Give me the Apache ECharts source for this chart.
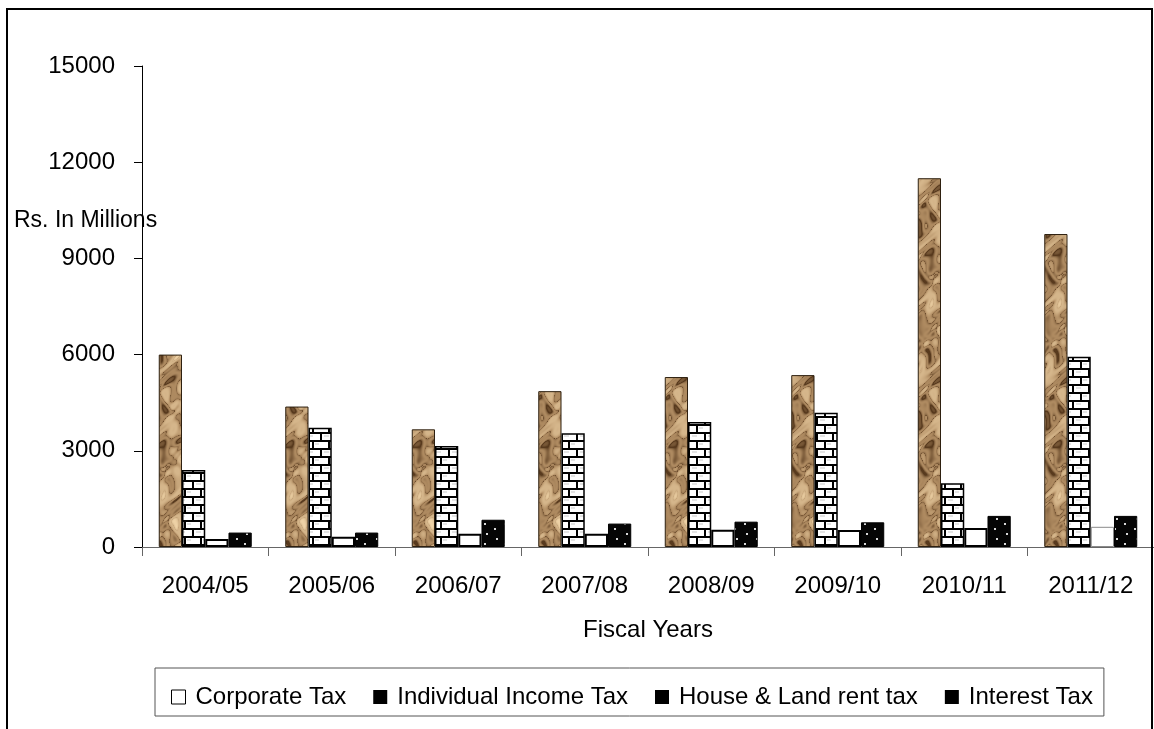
<!DOCTYPE html>
<html>
<head>
<meta charset="utf-8">
<script src="https://cdn.jsdelivr.net/npm/echarts@6/dist/echarts.min.js"></script>
<style>
  html, body { margin: 0; padding: 0; background: #fff; }
  #chart { width: 1154px; height: 729px; }
</style>
</head>
<body>
<div id="chart"></div>
<script>
// Tax revenue by fiscal year (Rs. in millions)
const categories = ['2004/05', '2005/06', '2006/07', '2007/08', '2008/09', '2009/10', '2010/11', '2011/12'];
const corporateTax = [6000, 4380, 3670, 4860, 5300, 5360, 11500, 9760];
const individualIncomeTax = [2400, 3720, 3150, 3550, 3900, 4190, 1990, 5930];
const houseLandRentTax = [250, 320, 415, 415, 540, 530, 590, 630];
const interestTax = [450, 450, 850, 730, 790, 770, 970, 970];
const yTicks = [0, 3000, 6000, 9000, 12000, 15000];

const FONT = '"Liberation Sans", Arial, sans-serif';

// Crumpled brown paper fill for the corporate tax bars
function marbleTile() {
  const w = 64, h = 192;
  const c = document.createElement('canvas');
  c.width = w; c.height = h;
  const ctx = c.getContext('2d');
  const img = ctx.createImageData(w, h);
  const dark = [88, 58, 30], mid = [176, 140, 98], light = [238, 210, 166];
  // tile-periodic wave terms: [fx, fy, phase, amplitude]
  const terms = [[1, 3, 0.3, 1.0], [2, -5, 1.7, 0.8], [3, 7, 2.9, 0.6], [1, -9, 0.9, 0.5],
                 [4, 11, 4.1, 0.35], [2, 13, 5.3, 0.3], [5, -4, 2.2, 0.3]];
  for (let y = 0; y < h; y++) {
    for (let x = 0; x < w; x++) {
      const tx = x / w * Math.PI * 2, ty = y / h * Math.PI * 2;
      const wx = tx + 0.8 * Math.sin(ty * 3 + 1.1);
      const wy = ty + 0.25 * Math.sin(tx * 2 + ty * 4);
      let s = 0;
      for (const t of terms) s += t[3] * Math.sin(t[0] * wx + t[1] * wy + t[2]);
      s /= 2.4;                                  // roughly -1..1
      const ridge = 1 - Math.pow(Math.abs(Math.sin(s * 3.2)), 0.5); // sharp dark creases
      let v = 0.62 + 0.3 * s - 0.55 * ridge * (s < 0 ? 1 : 0.45);
      v = Math.min(1, Math.max(0, v));
      let col;
      if (v < 0.5) {
        const f = v / 0.5;
        col = dark.map((d, k) => d + (mid[k] - d) * f);
      } else {
        const f = (v - 0.5) / 0.5;
        col = mid.map((m, k) => m + (light[k] - m) * f);
      }
      const i = (y * w + x) * 4;
      img.data[i] = Math.round(col[0]);
      img.data[i + 1] = Math.round(col[1]);
      img.data[i + 2] = Math.round(col[2]);
      img.data[i + 3] = 255;
    }
  }
  ctx.putImageData(img, 0, 0);
  return c;
}

// White bricks with black mortar
function brickTile() {
  const c = document.createElement('canvas');
  c.width = 16; c.height = 16;
  const ctx = c.getContext('2d');
  ctx.fillStyle = '#fff';
  ctx.fillRect(0, 0, 16, 16);
  ctx.fillStyle = '#e4e4e4';
  ctx.fillRect(4, 3, 5, 2);
  ctx.fillRect(11, 11, 4, 2);
  ctx.fillStyle = '#000';
  ctx.fillRect(0, 0, 16, 2);
  ctx.fillRect(0, 8, 16, 2);
  ctx.fillRect(0, 0, 2, 8);
  ctx.fillRect(8, 8, 2, 8);
  return c;
}

// Black fill with sparse light dots
function dotTile() {
  const c = document.createElement('canvas');
  c.width = 20; c.height = 20;
  const ctx = c.getContext('2d');
  ctx.fillStyle = '#050505';
  ctx.fillRect(0, 0, 20, 20);
  ctx.fillStyle = '#d8d8d8';
  [[4, 3], [14, 8], [6, 13], [16, 18]].forEach(p => ctx.fillRect(p[0], p[1], 2, 2));
  return c;
}

const chart = echarts.init(document.getElementById('chart'), null, { renderer: 'canvas' });

const houseData = houseLandRentTax.map((v, i) =>
  i === houseLandRentTax.length - 1
    ? { value: v, itemStyle: { borderColor: '#8a8a8a', borderWidth: 1 } }
    : v);

chart.setOption({
  animation: false,
  backgroundColor: '#fff',
  textStyle: { fontFamily: FONT },
  grid: { left: 142, top: 66, width: 1012, height: 481 },
  xAxis: {
    type: 'category',
    data: categories,
    name: 'Fiscal Years',
    nameLocation: 'middle',
    nameGap: 71,
    nameTextStyle: { fontSize: 24, color: '#000', fontFamily: FONT },
    axisLine: { lineStyle: { color: '#666', width: 1 } },
    axisTick: { show: true, length: 9, lineStyle: { color: '#666' } },
    axisLabel: { fontSize: 24, color: '#000', margin: 27, fontFamily: FONT }
  },
  yAxis: {
    type: 'value',
    min: yTicks[0],
    max: yTicks[yTicks.length - 1],
    interval: yTicks[1] - yTicks[0],
    splitLine: { show: false },
    axisLine: { show: true, lineStyle: { color: '#000', width: 1 } },
    axisTick: { show: true, length: 8, lineStyle: { color: '#000' } },
    axisLabel: { fontSize: 24, color: '#000', margin: 27, fontFamily: FONT, formatter: v => String(v) }
  },
  legend: {
    left: 155,
    top: 668,
    orient: 'horizontal',
    padding: [17, 11, 7, 16],
    borderColor: '#555',
    borderWidth: 1,
    itemWidth: 14,
    itemHeight: 14,
    itemGap: 27,
    textStyle: { fontSize: 24, color: '#000', fontFamily: FONT, padding: [0, 0, 0, 5] },
    data: [
      { name: 'Corporate Tax', icon: 'rect', itemStyle: { color: '#fff', borderColor: '#000', borderWidth: 1 } },
      { name: 'Individual Income Tax', icon: 'rect', itemStyle: { color: '#000', borderWidth: 0 } },
      { name: 'House & Land rent tax', icon: 'rect', itemStyle: { color: '#000', borderWidth: 0 } },
      { name: 'Interest Tax', icon: 'rect', itemStyle: { color: '#000', borderWidth: 0 } }
    ]
  },
  graphic: [
    {
      type: 'rect',
      shape: { x: 7, y: 9, width: 1145, height: 740 },
      style: { fill: 'none', stroke: '#000', lineWidth: 2 },
      silent: true,
      z: 100
    },
    {
      type: 'text',
      x: 14,
      y: 221,
      style: { text: 'Rs. In Millions', fontSize: 23, fontFamily: FONT, fill: '#000', verticalAlign: 'middle' },
      z: 100
    }
  ],
  series: [
    {
      name: 'Corporate Tax',
      type: 'bar',
      data: corporateTax,
      barGap: '0%',
      barCategoryGap: '26.5%',
      itemStyle: { color: { image: marbleTile(), repeat: 'repeat' }, borderColor: '#2e2010', borderWidth: 1 }
    },
    {
      name: 'Individual Income Tax',
      type: 'bar',
      data: individualIncomeTax,
      itemStyle: { color: { image: brickTile(), repeat: 'repeat' }, borderColor: '#000', borderWidth: 1.5 }
    },
    {
      name: 'House & Land rent tax',
      type: 'bar',
      data: houseData,
      itemStyle: { color: '#fff', borderColor: '#000', borderWidth: 2 }
    },
    {
      name: 'Interest Tax',
      type: 'bar',
      data: interestTax,
      itemStyle: { color: { image: dotTile(), repeat: 'repeat' }, borderColor: '#000', borderWidth: 1 }
    }
  ]
});
</script>
</body>
</html>
